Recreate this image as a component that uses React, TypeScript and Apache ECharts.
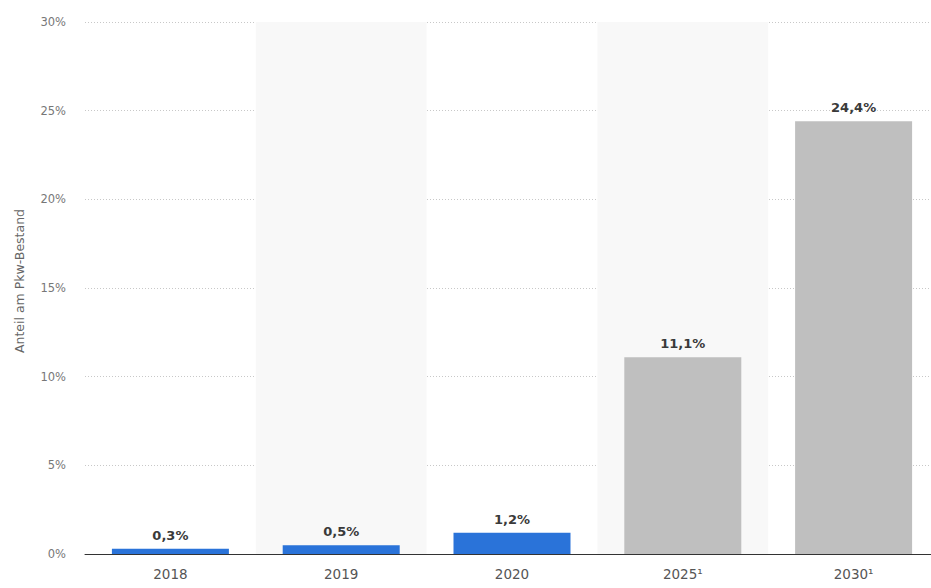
import React, { useEffect, useRef } from "react";
import * as echarts from "echarts";

const categories = ["2018", "2019", "2020", "2025¹", "2030¹"];
const values = [0.3, 0.5, 1.2, 11.1, 24.4];
const barColors = ["#2a73d9", "#2a73d9", "#2a73d9", "#bfbfbf", "#bfbfbf"];
const yTicks = [0, 5, 10, 15, 20, 25, 30];

const FONT = "DejaVu Sans";

export default function App() {
  const ref = useRef<HTMLDivElement>(null);
  useEffect(() => {
    document.documentElement.style.overflow = "hidden";
    document.body.style.overflow = "hidden";
    const chart = echarts.init(ref.current!, undefined, { renderer: "svg" });
    chart.setOption({
      animation: false,
      textStyle: { fontFamily: FONT },
      grid: { left: 85, top: 22, bottom: 34, right: 0 },
      xAxis: {
        type: "category",
        data: categories,
        axisTick: { show: false },
        axisLine: { lineStyle: { color: "#333", width: 1 } },
        axisLabel: { color: "#555", fontSize: 13.5, margin: 13, fontFamily: FONT },
        splitArea: {
          show: true,
          areaStyle: { color: ["rgba(255,255,255,0)", "#f8f8f8"] },
        },
      },
      yAxis: {
        type: "value",
        min: yTicks[0],
        max: yTicks[yTicks.length - 1],
        interval: 5,
        name: "Anteil am Pkw-Bestand",
        nameLocation: "middle",
        nameGap: 59,
        nameTextStyle: { color: "#666", fontSize: 12.5, fontFamily: FONT, padding: [0, 0, 0, 14] },
        axisLine: { show: false },
        axisTick: { show: false },
        axisLabel: {
          color: "#777",
          fontSize: 11.5,
          margin: 19,
          formatter: (v: number) => `${v}%`,
          fontFamily: FONT,
        },
        splitLine: { lineStyle: { color: "#c8c8c8", type: [1, 2], width: 1 } },
      },
      series: [
        {
          type: "bar",
          barWidth: 117,
          data: values.map((v, i) => ({ value: v, itemStyle: { color: barColors[i] } })),
          label: {
            show: true,
            position: "top",
            distance: 7,
            color: "#3a3a3a",
            fontSize: 13,
            fontWeight: "bold",
            fontFamily: FONT,
            formatter: (p: any) => `${String(p.value).replace(".", ",")}%`,
          },
        },
      ],
    });
    return () => chart.dispose();
  }, []);
  return (
    <div
      ref={ref}
      style={{ position: "fixed", left: 0, top: 0, width: 939, height: 588, background: "#fff" }}
    />
  );
}
